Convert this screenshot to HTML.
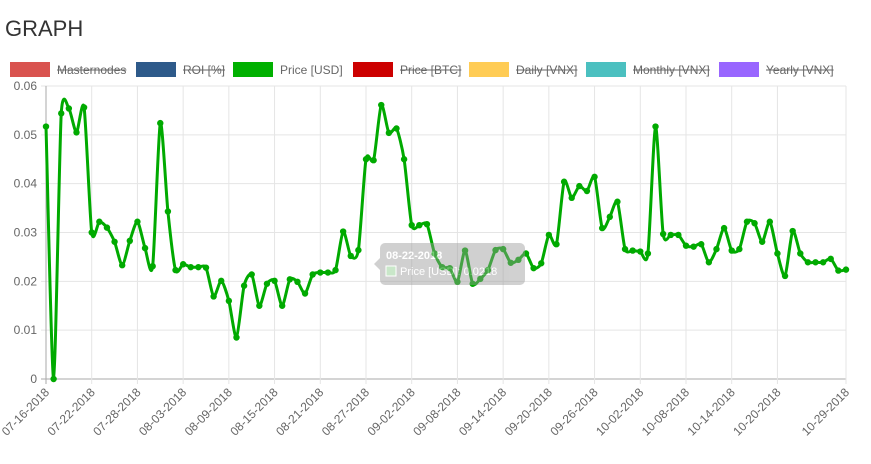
<!DOCTYPE html>
<html><head><meta charset="utf-8"><style>
body{margin:0;background:#fff;width:871px;height:464px;overflow:hidden;font-family:"Liberation Sans",sans-serif}
#title{position:absolute;left:5px;top:16px;font-size:22px;color:#333;font-weight:300;letter-spacing:0px}
</style></head><body>
<div id="title">GRAPH</div>
<svg id="chart" width="871" height="464" style="position:absolute;left:0;top:0"></svg>
<script>
const dateLabels=["07-16-2018","07-22-2018","07-28-2018","08-03-2018","08-09-2018","08-15-2018","08-21-2018","08-27-2018","09-02-2018","09-08-2018","09-14-2018","09-20-2018","09-26-2018","10-02-2018","10-08-2018","10-14-2018","10-20-2018","10-29-2018"];
const labelDays=[0,6,12,18,24,30,36,42,48,54,60,66,72,78,84,90,96,105];
const yTicks=[0,0.01,0.02,0.03,0.04,0.05,0.06];
const priceUSD=[0.0517,0,0.0544,0.0554,0.0505,0.0556,0.030,0.0322,0.031,0.0281,0.0233,0.0283,0.0322,0.0268,0.0231,0.0524,0.0343,0.0223,0.0235,0.0229,0.0229,0.0228,0.0169,0.0201,0.016,0.0085,0.0191,0.0214,0.015,0.0195,0.0201,0.015,0.0204,0.0199,0.0175,0.0214,0.0218,0.0218,0.0223,0.0302,0.0252,0.0264,0.045,0.0448,0.0561,0.0504,0.0513,0.045,0.0315,0.0315,0.0317,0.0257,0.0229,0.0227,0.0199,0.0263,0.0195,0.0205,0.0223,0.0264,0.0266,0.0238,0.0244,0.0257,0.0227,0.0237,0.0295,0.0276,0.0404,0.0371,0.0395,0.0385,0.0414,0.0309,0.0332,0.0363,0.0266,0.0263,0.0261,0.0257,0.0517,0.0297,0.0295,0.0295,0.0273,0.0271,0.0276,0.0239,0.0266,0.0309,0.0263,0.0266,0.0322,0.0319,0.0281,0.0322,0.0257,0.0211,0.0303,0.0257,0.0239,0.0239,0.0239,0.0246,0.0222,0.0224];
const legendNames=["Masternodes","ROI [%]","Price [USD]","Price [BTC]","Daily [VNX]","Monthly [VNX]","Yearly [VNX]"];
const legendColors=["#d9534f","#2e5a8a","#00b000","#cc0000","#ffcc55","#4bc0c0","#9966ff"];
const legendHidden=[true,true,false,true,true,true,true];
const legendX=[10,136,233,353,469,586,719];

const svg=document.getElementById('chart');
const NS='http://www.w3.org/2000/svg';
const X0=46,X1=846,Y0=379,Y1=86,NDAYS=105;
const xs=d=>X0+(X1-X0)*d/NDAYS;
const ys=v=>Y0-(Y0-Y1)*v/0.06;
function mk(t,a,p){const e=document.createElementNS(NS,t);for(const k in a)e.setAttribute(k,a[k]);(p||svg).appendChild(e);return e;}

legendNames.forEach((n,i)=>{
  const g=mk('g',{});
  
  
  mk('rect',{x:legendX[i],y:62,width:40,height:15,fill:legendColors[i]},g);
  const t=mk('text',{x:legendX[i]+47,y:74,'font-size':12,fill:'#666','font-family':'Liberation Sans, sans-serif'},g);
  t.textContent=n;
  if(legendHidden[i]){const w=t.getComputedTextLength();mk('line',{x1:legendX[i]+47,x2:legendX[i]+47+w,y1:70,y2:70,stroke:'#666','stroke-width':1},g);}
});

yTicks.forEach(v=>{
  const l=mk('line',{x1:X0-5,x2:X1,y1:ys(v),y2:ys(v),stroke:v===0?'#aaa':'#e5e5e5','stroke-width':1});
  
  
  const t=mk('text',{x:X0-9,y:ys(v)+4,'text-anchor':'end','font-size':12,fill:'#666'});
  
  
  t.textContent=v===0?'0':v.toFixed(2);
});
labelDays.forEach((d,i)=>{
  const x=xs(d);
  const l=mk('line',{x1:x,x2:x,y1:Y1,y2:Y0+5,stroke:i===0?'#aaa':'#e5e5e5','stroke-width':1});
  
  
  const t=mk('text',{x:x+4,y:Y0+14,'text-anchor':'end','font-size':12,fill:'#666',transform:`rotate(-45 ${x+4} ${Y0+14})`});
  
  
  t.textContent=dateLabels[i];
});

const pts=priceUSD.map((v,i)=>[xs(i),ys(v)]);
let d='M'+pts[0][0]+','+pts[0][1];
const k=0.12;
const clampY=y=>Math.max(Y1,Math.min(Y0,y));
for(let i=0;i<pts.length-1;i++){
  const p0=pts[Math.max(0,i-1)],p1=pts[i],p2=pts[i+1],p3=pts[Math.min(pts.length-1,i+2)];
  const c1=[p1[0]+(p2[0]-p0[0])*k,clampY(p1[1]+(p2[1]-p0[1])*k)];
  const c2=[p2[0]-(p3[0]-p1[0])*k,clampY(p2[1]-(p3[1]-p1[1])*k)];
  d+=`C${c1[0]},${c1[1]} ${c2[0]},${c2[1]} ${p2[0]},${p2[1]}`;
}
const line=mk('path',{d:d,fill:'none',stroke:'#00aa00','stroke-width':3});


pts.forEach(p=>{
  const c=mk('circle',{cx:p[0],cy:p[1],r:3.2,fill:'#00aa00'});
  
  
});

const tg=mk('g',{opacity:0.45});


mk('rect',{x:380,y:243,width:145,height:42,rx:5,fill:'#999'},tg);
mk('path',{d:'M380,258 L374,264 L380,270Z',fill:'#999'},tg);
const t1=mk('text',{x:386,y:259,'font-size':11,'font-weight':'bold',fill:'#fff'},tg);t1.textContent='08-22-2018';
mk('rect',{x:386,y:266,width:10,height:10,fill:'#8c8',stroke:'#fff'},tg);
const t2=mk('text',{x:400,y:275,'font-size':11,fill:'#fff'},tg);t2.textContent='Price [USD]: 0.0218';
</script>
</body></html>
